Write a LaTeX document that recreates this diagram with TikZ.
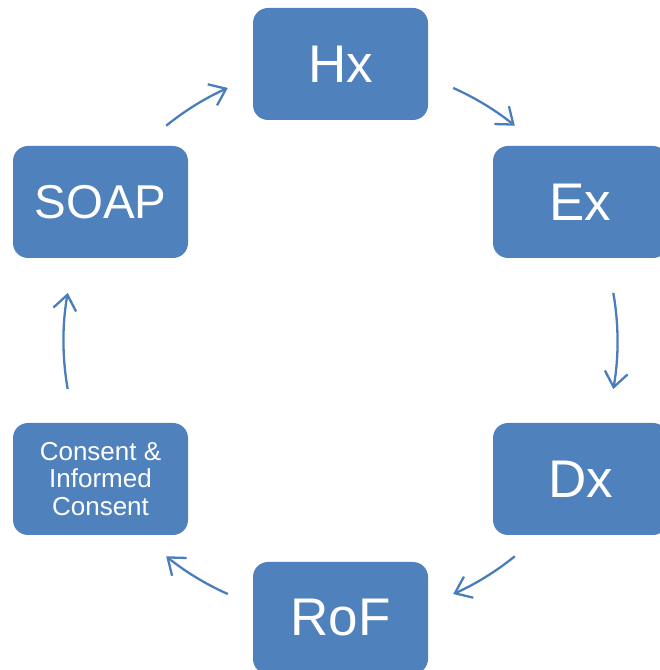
\documentclass[tikz,border=0pt]{standalone}
\usepackage{fontspec}
\setmainfont{Liberation Sans}
\usetikzlibrary{arrows.meta}
\definecolor{boxblue}{HTML}{4F81BD}
\definecolor{arrblue}{HTML}{4A7EBB}
\tikzset{
  stepbox/.style={fill=boxblue, draw=none, rounded corners=15pt, minimum width=175pt,
    minimum height=112pt, inner sep=0pt, text=white, align=center, font=\fontsize{53}{56}\selectfont},
  cyc/.style={draw=arrblue, line width=2.3pt, -{Straight Barb[length=15pt,width=23pt,line width=2.3pt]}}
}
\begin{document}
\begin{tikzpicture}[x=1pt,y=1pt]
\useasboundingbox (0,0) rectangle (660,670);
\coordinate (c) at (340.5,329);
\node[stepbox] (hx) at (340.5,606) {Hx};
\node[stepbox] (ex) at (580.5,468) {Ex};
\node[stepbox] (dx) at (580.5,191) {Dx};
\node[stepbox] (rof) at (340.5,52) {RoF};
\node[stepbox, font=\fontsize{26}{27.5}\selectfont] (cons) at (100.5,191) {Consent \&\\Informed\\Consent};
\node[stepbox, font=\fontsize{47.5}{50}\selectfont] (soap) at (100.5,468) {SOAP};
\draw[cyc] ([shift={(66:277)}]c) arc[start angle=66, end angle=51, radius=277];
\draw[cyc] ([shift={(10:277)}]c) arc[start angle=10, end angle=-10, radius=277];
\draw[cyc] ([shift={(-51:277)}]c) arc[start angle=-51, end angle=-66, radius=277];
\draw[cyc] ([shift={(-114:277)}]c) arc[start angle=-114, end angle=-129, radius=277];
\draw[cyc] ([shift={(190:277)}]c) arc[start angle=190, end angle=170, radius=277];
\draw[cyc] ([shift={(129:277)}]c) arc[start angle=129, end angle=114, radius=277];
\end{tikzpicture}
\end{document}
